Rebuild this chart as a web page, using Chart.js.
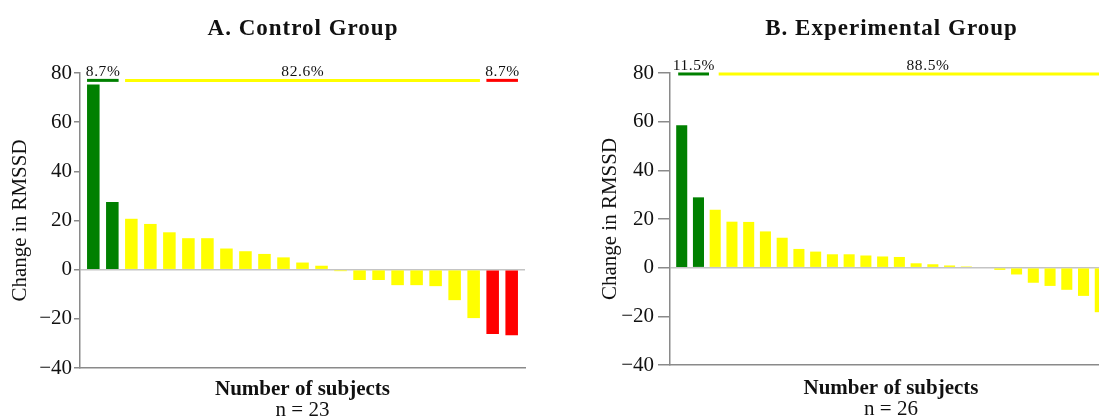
<!DOCTYPE html>
<html>
<head>
<meta charset="utf-8">
<title>Change in RMSSD by subject</title>
<script src="https://cdn.jsdelivr.net/npm/chart.js@4.4.1/dist/chart.umd.min.js"></script>
<style>
  html, body { margin: 0; padding: 0; background: #fff; width: 1099px; height: 418px; overflow: hidden; }
  canvas { position: absolute; top: 0; }
  #chartA { left: 0; }
  #chartB { left: 590px; }
</style>
</head>
<body>
<canvas id="chartA" width="550" height="430"></canvas>
<canvas id="chartB" width="550" height="430"></canvas>
<script>
// Per-subject change in RMSSD, sorted from largest increase to largest decrease
const controlChange = [75.3, 27.5, 20.7, 18.6, 15.2, 12.8, 12.8, 8.6, 7.5, 6.4, 5.0, 2.9, 1.6,
  -0.6, -4.2, -4.2, -6.3, -6.3, -6.7, -12.4, -19.7, -26.2, -26.7];
const experimentalChange = [58.5, 28.9, 23.8, 18.9, 18.8, 14.9, 12.3, 7.7, 6.6, 5.5, 5.5, 5.0, 4.6,
  4.4, 1.8, 1.4, 0.9, 0.5, -0.3, -0.9, -2.8, -6.2, -7.5, -9.1, -11.6, -18.3];

// Response groups: number of subjects per group (improved / unchanged / worsened)
const controlGroupSizes = [2, 19, 2];
const experimentalGroupSizes = [2, 24];
const controlGroupLabels = ['8.7%', '82.6%', '8.7%'];
const experimentalGroupLabels = ['11.5%', '88.5%'];
const groupColors = ['#008000', '#ffff00', '#ff0000'];

const yTickValues = [-40, -20, 0, 20, 40, 60, 80];

const SERIF = '"Liberation Serif", "Times New Roman", Times, serif';

function barColors(sizes) {
  const out = [];
  sizes.forEach((n, g) => { for (let i = 0; i < n; i++) out.push(groupColors[g]); });
  return out;
}

// Coloured bracket lines with percentage labels above each response group.
// `nudge` holds optional pixel tweaks [start, end] for each bracket.
const groupBracketPlugin = {
  id: 'groupBracket',
  afterDatasetsDraw(chart, args, opts) {
    const meta = chart.getDatasetMeta(0);
    const ctx = chart.ctx;
    const y = chart.scales.y.getPixelForValue(opts.level);
    let first = 0;
    opts.sizes.forEach((size, g) => {
      const a = meta.data[first];
      const b = meta.data[first + size - 1];
      const tweak = (opts.nudge && opts.nudge[g]) || [0, 0];
      const x0 = a.x - a.width / 2 + tweak[0];
      const x1 = b.x + b.width / 2 + tweak[1];
      ctx.save();
      ctx.strokeStyle = groupColors[g];
      ctx.lineWidth = 3;
      ctx.beginPath();
      ctx.moveTo(x0, y);
      ctx.lineTo(x1, y);
      ctx.stroke();
      ctx.font = '15.5px ' + SERIF;
      ctx.letterSpacing = '0.6px';
      ctx.fillStyle = '#111';
      ctx.textAlign = 'center';
      ctx.textBaseline = 'alphabetic';
      ctx.fillText(opts.labels[g], (x0 + x1) / 2 + 0.3, y - 4);
      ctx.restore();
      first += size;
    });
  }
};

// Panel heading centred over the plotting area
const headingPlugin = {
  id: 'heading',
  afterDraw(chart, args, opts) {
    const {ctx, chartArea} = chart;
    ctx.save();
    ctx.font = 'bold 23px ' + SERIF;
    ctx.letterSpacing = '1px';
    ctx.fillStyle = '#111';
    ctx.textAlign = 'center';
    ctx.textBaseline = 'alphabetic';
    ctx.fillText(opts.text, (chartArea.left + chartArea.right) / 2 + 0.5, opts.baseline);
    ctx.restore();
  }
};

function makeChart(canvasId, values, sizes, labels, cfg) {
  const points = values.map((v, i) => ({x: i + 1, y: v}));
  return new Chart(document.getElementById(canvasId), {
    type: 'bar',
    data: {
      datasets: [{
        data: points,
        backgroundColor: barColors(sizes),
        borderWidth: 0,
        barPercentage: 0.66,
        categoryPercentage: 1.0
      }]
    },
    options: {
      responsive: false,
      animation: false,
      devicePixelRatio: 1,
      layout: { padding: { top: 73, left: 0, right: cfg.padRight, bottom: cfg.padBottom } },
      plugins: {
        legend: { display: false },
        tooltip: { enabled: false },
        title: { display: false },
        subtitle: {
          display: true,
          position: 'bottom',
          fullSize: false,
          text: cfg.countText,
          color: '#111',
          font: { family: SERIF, size: 21, weight: 'normal', lineHeight: 1 },
          padding: { top: 0, bottom: 0 }
        },
        heading: { text: cfg.heading, baseline: 35 },
        groupBracket: { sizes: sizes, labels: labels, level: cfg.bracketLevel, nudge: cfg.bracketNudge }
      },
      scales: {
        x: {
          type: 'linear',
          offset: false,
          bounds: 'data',
          min: 0.3,
          max: values.length + 0.7,
          afterBuildTicks: (s) => { s.ticks = values.map((_, i) => ({value: i + 1})); },
          ticks: { display: false },
          grid: { display: false, drawTicks: false, offset: false },
          border: { display: true, color: '#8a8a8a', width: 1.5 },
          title: {
            display: true,
            text: 'Number of subjects',
            color: '#111',
            font: { family: SERIF, size: 21, weight: 'bold', lineHeight: 1 },
            padding: { top: cfg.xTitleTop, bottom: 0 }
          }
        },
        y: {
          min: -40,
          max: 80,
          afterBuildTicks: (s) => { s.ticks = yTickValues.map(v => ({value: v})); },
          afterFit: (s) => { s.width = 80; },
          ticks: {
            color: '#111',
            padding: cfg.tickPad,
            font: { family: SERIF, size: 21 },
            callback: (v) => (v < 0 ? '\u2212' + Math.abs(v) : String(v))
          },
          grid: {
            drawOnChartArea: true,
            drawTicks: true,
            tickLength: cfg.tickLength,
            tickColor: '#8a8a8a',
            lineWidth: 1.5,
            color: (c) => (c.tick && c.tick.value === 0 ? '#c4c4c4' : 'rgba(0,0,0,0)')
          },
          border: { display: true, color: '#8a8a8a', width: 1.5 },
          title: {
            display: true,
            text: 'Change in RMSSD',
            color: '#111',
            font: { family: SERIF, size: 21, lineHeight: 1.2 },
            padding: { top: 8, bottom: 0 }
          }
        }
      }
    },
    plugins: [groupBracketPlugin, headingPlugin]
  });
}

makeChart('chartA', controlChange, controlGroupSizes, controlGroupLabels, {
  heading: 'A. Control Group',
  countText: 'n = 23',
  bracketLevel: 77,
  bracketNudge: null,
  padRight: 25,
  padBottom: 9,
  xTitleTop: 11,
  tickLength: 6,
  tickPad: 2
});

makeChart('chartB', experimentalChange, experimentalGroupSizes, experimentalGroupLabels, {
  heading: 'B. Experimental Group',
  countText: 'n = 26',
  bracketLevel: 79.6,
  bracketNudge: [[2, 5], [9, 31]],
  padRight: 28,
  padBottom: 10,
  xTitleTop: 13,
  tickLength: 12,
  tickPad: 4
});
</script>
</body>
</html>
